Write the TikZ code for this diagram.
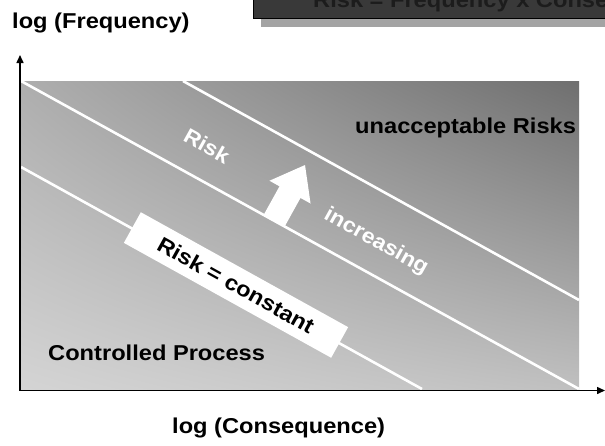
\documentclass[tikz,border=0pt]{standalone}
\usepackage{fontspec}
\setmainfont{Liberation Sans}
\newfontfamily\labfont[FakeStretch=1.1]{Liberation Sans}
\usetikzlibrary{arrows.meta}

\definecolor{bannerfill}{HTML}{393939}
\definecolor{bannertext}{HTML}{1C1C1C}
\definecolor{shadowgray}{HTML}{A3A3A3}

% background: light in the lower left corner, dark in the upper right one
\pgfdeclarefunctionalshading{riskfield}{\pgfpoint{0bp}{0bp}}{\pgfpoint{100bp}{100bp}}{}{
  25 sub 50 div
  exch 25 sub 50 div exch
  2 copy mul 43 mul
  3 1 roll
  38 mul exch 20 mul add add
  212 exch sub 255 div
  dup dup
}

\tikzset{
  lab/.style={inner sep=0pt, font=\labfont\bfseries\fontsize{21.5}{24}\selectfont},
  whitelab/.style={inner sep=0pt, text=white, font=\labfont\bfseries\fontsize{21}{23}\selectfont},
  riskline/.style={white, line width=2.6pt},
  axis/.style={black, line width=1.5pt, -{Triangle[length=8pt, width=7pt]}},
}

\begin{document}
\begin{tikzpicture}[x=1pt, y=-1pt]
\useasboundingbox (0,0) rectangle (605,445);

% title banner at the top, cut by the page edge
\begin{scope}
  \clip (0,0) rectangle (605,445);
  \fill[shadowgray] (261,18) rectangle (620,27);
  \fill[bannerfill, draw=black, line width=1pt] (253,-30) rectangle (620,18);
  \node[lab, text=bannertext, anchor=base west] (title) at (313,7) {Risk = Frequency x Consequence};
\end{scope}

% shaded field
\shade[shading=riskfield] (21,81) rectangle (579,389);

% iso-risk lines
\begin{scope}
  \clip (21,81) rectangle (579,389);
  \draw[riskline] (21,167) -- (422,389);
  \draw[riskline] (21,81) -- (579,389);
  \draw[riskline] (183,81) -- (579,300);
\end{scope}

% block arrow standing on the middle line
\begin{scope}[shift={(274,221)}, rotate=-29]
  \fill[white] (-12,0) -- (-12,-33) -- (-23.5,-33) -- (0,-64) -- (23.5,-33) -- (12,-33) -- (12,0) -- cycle;
\end{scope}

\node[whitelab, rotate=-29] (risk) at (207,146) {Risk};
\node[whitelab, rotate=-29] (incr) at (376,242) {increasing};

\node[lab, fill=white, rotate=-29, minimum width=237pt, minimum height=35pt] (const) at (236,285) {Risk = constant};

\node[lab, anchor=base west] (unacc) at (355,133) {unacceptable Risks};
\node[lab, anchor=base west] (ctrl) at (48,360) {Controlled Process};

% axes
\coordinate (origin) at (20,390.5);
\coordinate (ytip) at (20,55);
\coordinate (xtip) at (605,390.5);
\draw[axis] (origin) -- (ytip);
\draw[axis] (origin) -- (xtip);

\node[lab, anchor=base west] (ylab) at (12,28) {log (Frequency)};
\node[lab, anchor=base west] (xlab) at (172,433) {log (Consequence)};
\end{tikzpicture}
\end{document}
